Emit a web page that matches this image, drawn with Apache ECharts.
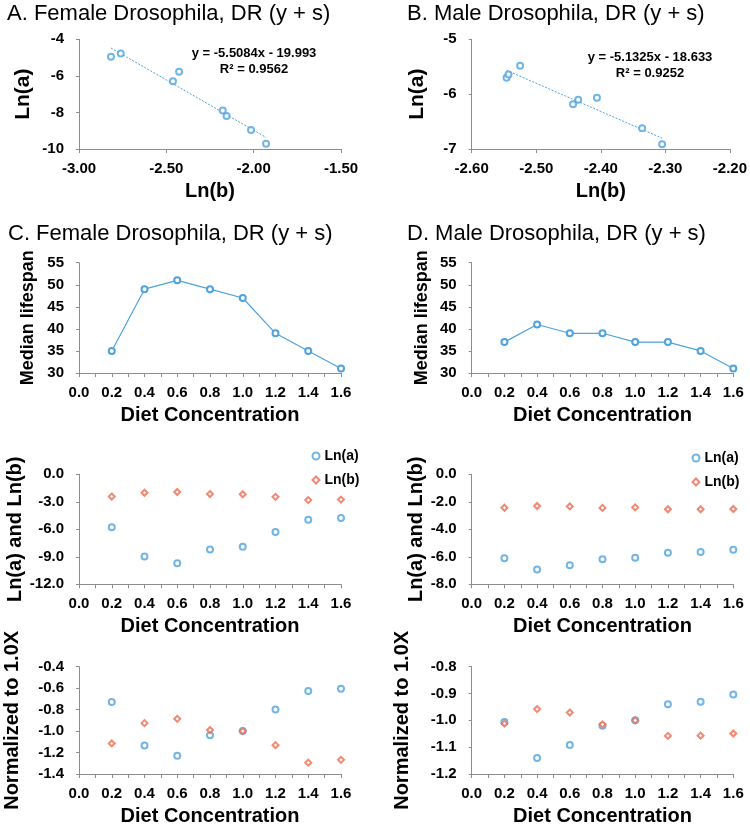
<!DOCTYPE html>
<html>
<head>
<meta charset="utf-8">
<script src="https://cdn.jsdelivr.net/npm/echarts@6/dist/echarts.min.js"></script>
<style>html,body{margin:0;padding:0;background:#fff}#c{width:750px;height:827px}</style>
</head>
<body>
<div id="c"></div>
<script>
// ---- data ----
var diet = [0.2, 0.4, 0.6, 0.8, 1.0, 1.2, 1.4, 1.6];
// Female
var lnA_F = [-5.77, -8.96, -9.71, -8.20, -7.89, -6.30, -4.95, -4.77];
var lnB_F = [-2.427, -2.015, -1.929, -2.155, -2.177, -2.462, -2.817, -2.761];
var lifespanF = [35, 49, 51, 49, 47, 39, 35, 31];
var normA_F = [-0.73, -1.135, -1.23, -1.04, -1.00, -0.80, -0.627, -0.605];
var normB_F = [-1.115, -0.926, -0.886, -0.99, -1.00, -1.131, -1.294, -1.268];
// Male
var lnA_M = [-6.10, -6.915, -6.62, -6.185, -6.064, -5.70, -5.644, -5.48];
var lnB_M = [-2.435, -2.305, -2.336, -2.443, -2.406, -2.546, -2.543, -2.525];
var lifespanM = [37, 41, 39, 39, 37, 37, 35, 31];
var normA_M = [-1.006, -1.14, -1.092, -1.02, -1.00, -0.94, -0.931, -0.904];
var normB_M = [-1.012, -0.958, -0.971, -1.015, -1.00, -1.058, -1.057, -1.049];
// Trendlines (from the chart labels)
var trendF = {slope: -5.5084, intercept: -19.993, eq: 'y = -5.5084x - 19.993', r2: 'R² = 0.9562'};
var trendM = {slope: -5.1325, intercept: -18.633, eq: 'y = -5.1325x - 18.633', r2: 'R² = 0.9252'};
var titles = ['A. Female Drosophila, DR (y + s)', 'B. Male Drosophila, DR (y + s)',
              'C. Female Drosophila, DR (y + s)', 'D. Male Drosophila, DR (y + s)'];

// ---- helpers ----
var BLUE = '#4FA3DC', RED = '#EE6A50', AXIS = '#8C8C8C';
var FONT = '"Liberation Sans", Arial, sans-serif';
function zip(xs, ys) { return xs.map(function (x, i) { return [x, ys[i]]; }); }
function trendPts(xs, t) {
  var lo = Math.min.apply(null, xs), hi = Math.max.apply(null, xs);
  return [[lo, t.slope * lo + t.intercept], [hi, t.slope * hi + t.intercept]];
}
function fx(d) { return function (v) { return (+v).toFixed(d); }; }

var LX = 79, RX = 471.7, WL = 262, WR = 261.6;
var grids = [
  {left: LX, top: 39.3, width: WL, height: 109.7},
  {left: RX, top: 39.3, width: WR, height: 109.7},
  {left: LX, top: 262.7, width: WL, height: 110.3},
  {left: RX, top: 262.7, width: WR, height: 110.3},
  {left: LX, top: 474.3, width: WL, height: 110},
  {left: RX, top: 474.3, width: WR, height: 110},
  {left: LX, top: 666.7, width: WL, height: 110},
  {left: RX, top: 666.7, width: WR, height: 110}
];

function xAx(gi, min, max, interval, dec, name, minor) {
  return {
    type: 'value', gridIndex: gi, min: min, max: max, interval: interval,
    name: name, nameLocation: 'middle', nameGap: 32,
    nameTextStyle: {fontFamily: FONT, fontWeight: 'bold', fontSize: 20, color: '#000'},
    axisLine: {show: true, onZero: false, lineStyle: {color: AXIS, width: 1}},
    axisTick: {show: true, length: 4, lineStyle: {color: AXIS}},
    minorTick: {show: !!minor, splitNumber: 2, length: 4, lineStyle: {color: AXIS}},
    splitLine: {show: false},
    axisLabel: {formatter: fx(dec), margin: 12, fontFamily: FONT, fontWeight: 'bold', fontSize: 15, color: '#000'}
  };
}
function yAx(gi, min, max, interval, dec, name, gap, size) {
  return {
    type: 'value', gridIndex: gi, min: min, max: max, interval: interval,
    name: name, nameLocation: 'middle', nameGap: gap,
    nameTextStyle: {fontFamily: FONT, fontWeight: 'bold', fontSize: size || 20, color: '#000'},
    axisLine: {show: true, onZero: false, lineStyle: {color: AXIS, width: 1}},
    axisTick: {show: true, length: 3, lineStyle: {color: AXIS}},
    splitLine: {show: false},
    axisLabel: {formatter: fx(dec), margin: 15, fontFamily: FONT, fontWeight: 'bold', fontSize: 15, color: '#000'}
  };
}

var xAxes = [
  xAx(0, -3, -1.5, 0.5, 2, 'Ln(b)'),
  xAx(1, -2.6, -2.2, 0.1, 2, 'Ln(b)'),
  xAx(2, 0, 1.6, 0.2, 1, 'Diet Concentration', true),
  xAx(3, 0, 1.6, 0.2, 1, 'Diet Concentration', true),
  xAx(4, 0, 1.6, 0.2, 1, 'Diet Concentration', true),
  xAx(5, 0, 1.6, 0.2, 1, 'Diet Concentration', true),
  xAx(6, 0, 1.6, 0.2, 1, 'Diet Concentration', true),
  xAx(7, 0, 1.6, 0.2, 1, 'Diet Concentration', true)
];
var yAxes = [
  yAx(0, -10, -4, 2, 0, 'Ln(a)', 45, 21),
  yAx(1, -7, -5, 1, 0, 'Ln(a)', 44, 21),
  yAx(2, 30, 55, 5, 0, 'Median lifespan', 42, 18),
  yAx(3, 30, 55, 5, 0, 'Median lifespan', 41, 18),
  yAx(4, -12, 0, 3, 1, 'Ln(a) and Ln(b)', 49),
  yAx(5, -8, 0, 2, 1, 'Ln(a) and Ln(b)', 45),
  yAx(6, -1.4, -0.4, 0.2, 1, 'Normalized to 1.0X', 57),
  yAx(7, -1.2, -0.8, 0.1, 1, 'Normalized to 1.0X', 59)
];

function circles(gi, data, name) {
  return {type: 'scatter', name: name, xAxisIndex: gi, yAxisIndex: gi, data: data,
    symbol: 'emptyCircle', symbolSize: 6, itemStyle: {color: BLUE, borderWidth: 1.3}, silent: true};
}
function diamonds(gi, data, name) {
  return {type: 'scatter', name: name, xAxisIndex: gi, yAxisIndex: gi, data: data,
    symbol: 'emptyDiamond', symbolSize: 6, itemStyle: {color: RED, borderWidth: 1.2}, silent: true, z: 3};
}
function trend(gi, pts) {
  return {type: 'line', xAxisIndex: gi, yAxisIndex: gi, data: pts, showSymbol: false, silent: true,
    lineStyle: {color: BLUE, width: 1, type: [2, 1.5]}, z: 1};
}
function lifeLine(gi, data) {
  return {type: 'line', xAxisIndex: gi, yAxisIndex: gi, data: data, symbol: 'emptyCircle', symbolSize: 6,
    showAllSymbol: true, silent: true, itemStyle: {color: BLUE, borderWidth: 1.3}, lineStyle: {color: BLUE, width: 1.2}};
}

var series = [
  trend(0, trendPts(lnB_F, trendF)), circles(0, zip(lnB_F, lnA_F), 'A'),
  trend(1, trendPts(lnB_M, trendM)), circles(1, zip(lnB_M, lnA_M), 'B'),
  lifeLine(2, zip(diet, lifespanF)),
  lifeLine(3, zip(diet, lifespanM)),
  circles(4, zip(diet, lnA_F), 'Ln(a)'), diamonds(4, zip(diet, lnB_F), 'Ln(b)'),
  circles(5, zip(diet, lnA_M), 'Ln(a)'), diamonds(5, zip(diet, lnB_M), 'Ln(b)'),
  circles(6, zip(diet, normA_F), 'nA'), diamonds(6, zip(diet, normB_F), 'nB'),
  circles(7, zip(diet, normA_M), 'nA'), diamonds(7, zip(diet, normB_M), 'nB')
];

function legendAt(left, top) {
  return {orient: 'vertical', left: left, top: top, padding: 0, itemWidth: 7, itemHeight: 7, itemGap: 10,
    selectedMode: false, data: ['Ln(a)', 'Ln(b)'],
    textStyle: {fontFamily: FONT, fontWeight: 'bold', fontSize: 14, color: '#000'}};
}

function txt(t, x, y, size, bold, align) {
  return {type: 'text', silent: true, style: {text: t, x: x, y: y, fill: '#000',
    font: (bold ? 'bold ' : '') + size + 'px ' + FONT, align: align || 'left', verticalAlign: 'middle'}};
}

var chart = echarts.init(document.getElementById('c'), null, {renderer: 'canvas'});
chart.setOption({
  animation: false,
  backgroundColor: '#fff',
  grid: grids,
  xAxis: xAxes,
  yAxis: yAxes,
  legend: [legendAt(311.5, 449), legendAt(691.5, 451)],
  series: series,
  graphic: [
    txt(titles[0], 7, 13.5, 22, false),
    txt(titles[1], 407, 13.5, 22, false),
    txt(titles[2], 8, 234, 22, false),
    txt(titles[3], 407, 234, 22, false),
    txt(trendF.eq, 254, 53, 13, true, 'center'),
    txt(trendF.r2, 254, 69, 13, true, 'center'),
    txt(trendM.eq, 650, 57, 13, true, 'center'),
    txt(trendM.r2, 650, 73, 13, true, 'center')
  ]
});
</script>
</body>
</html>
